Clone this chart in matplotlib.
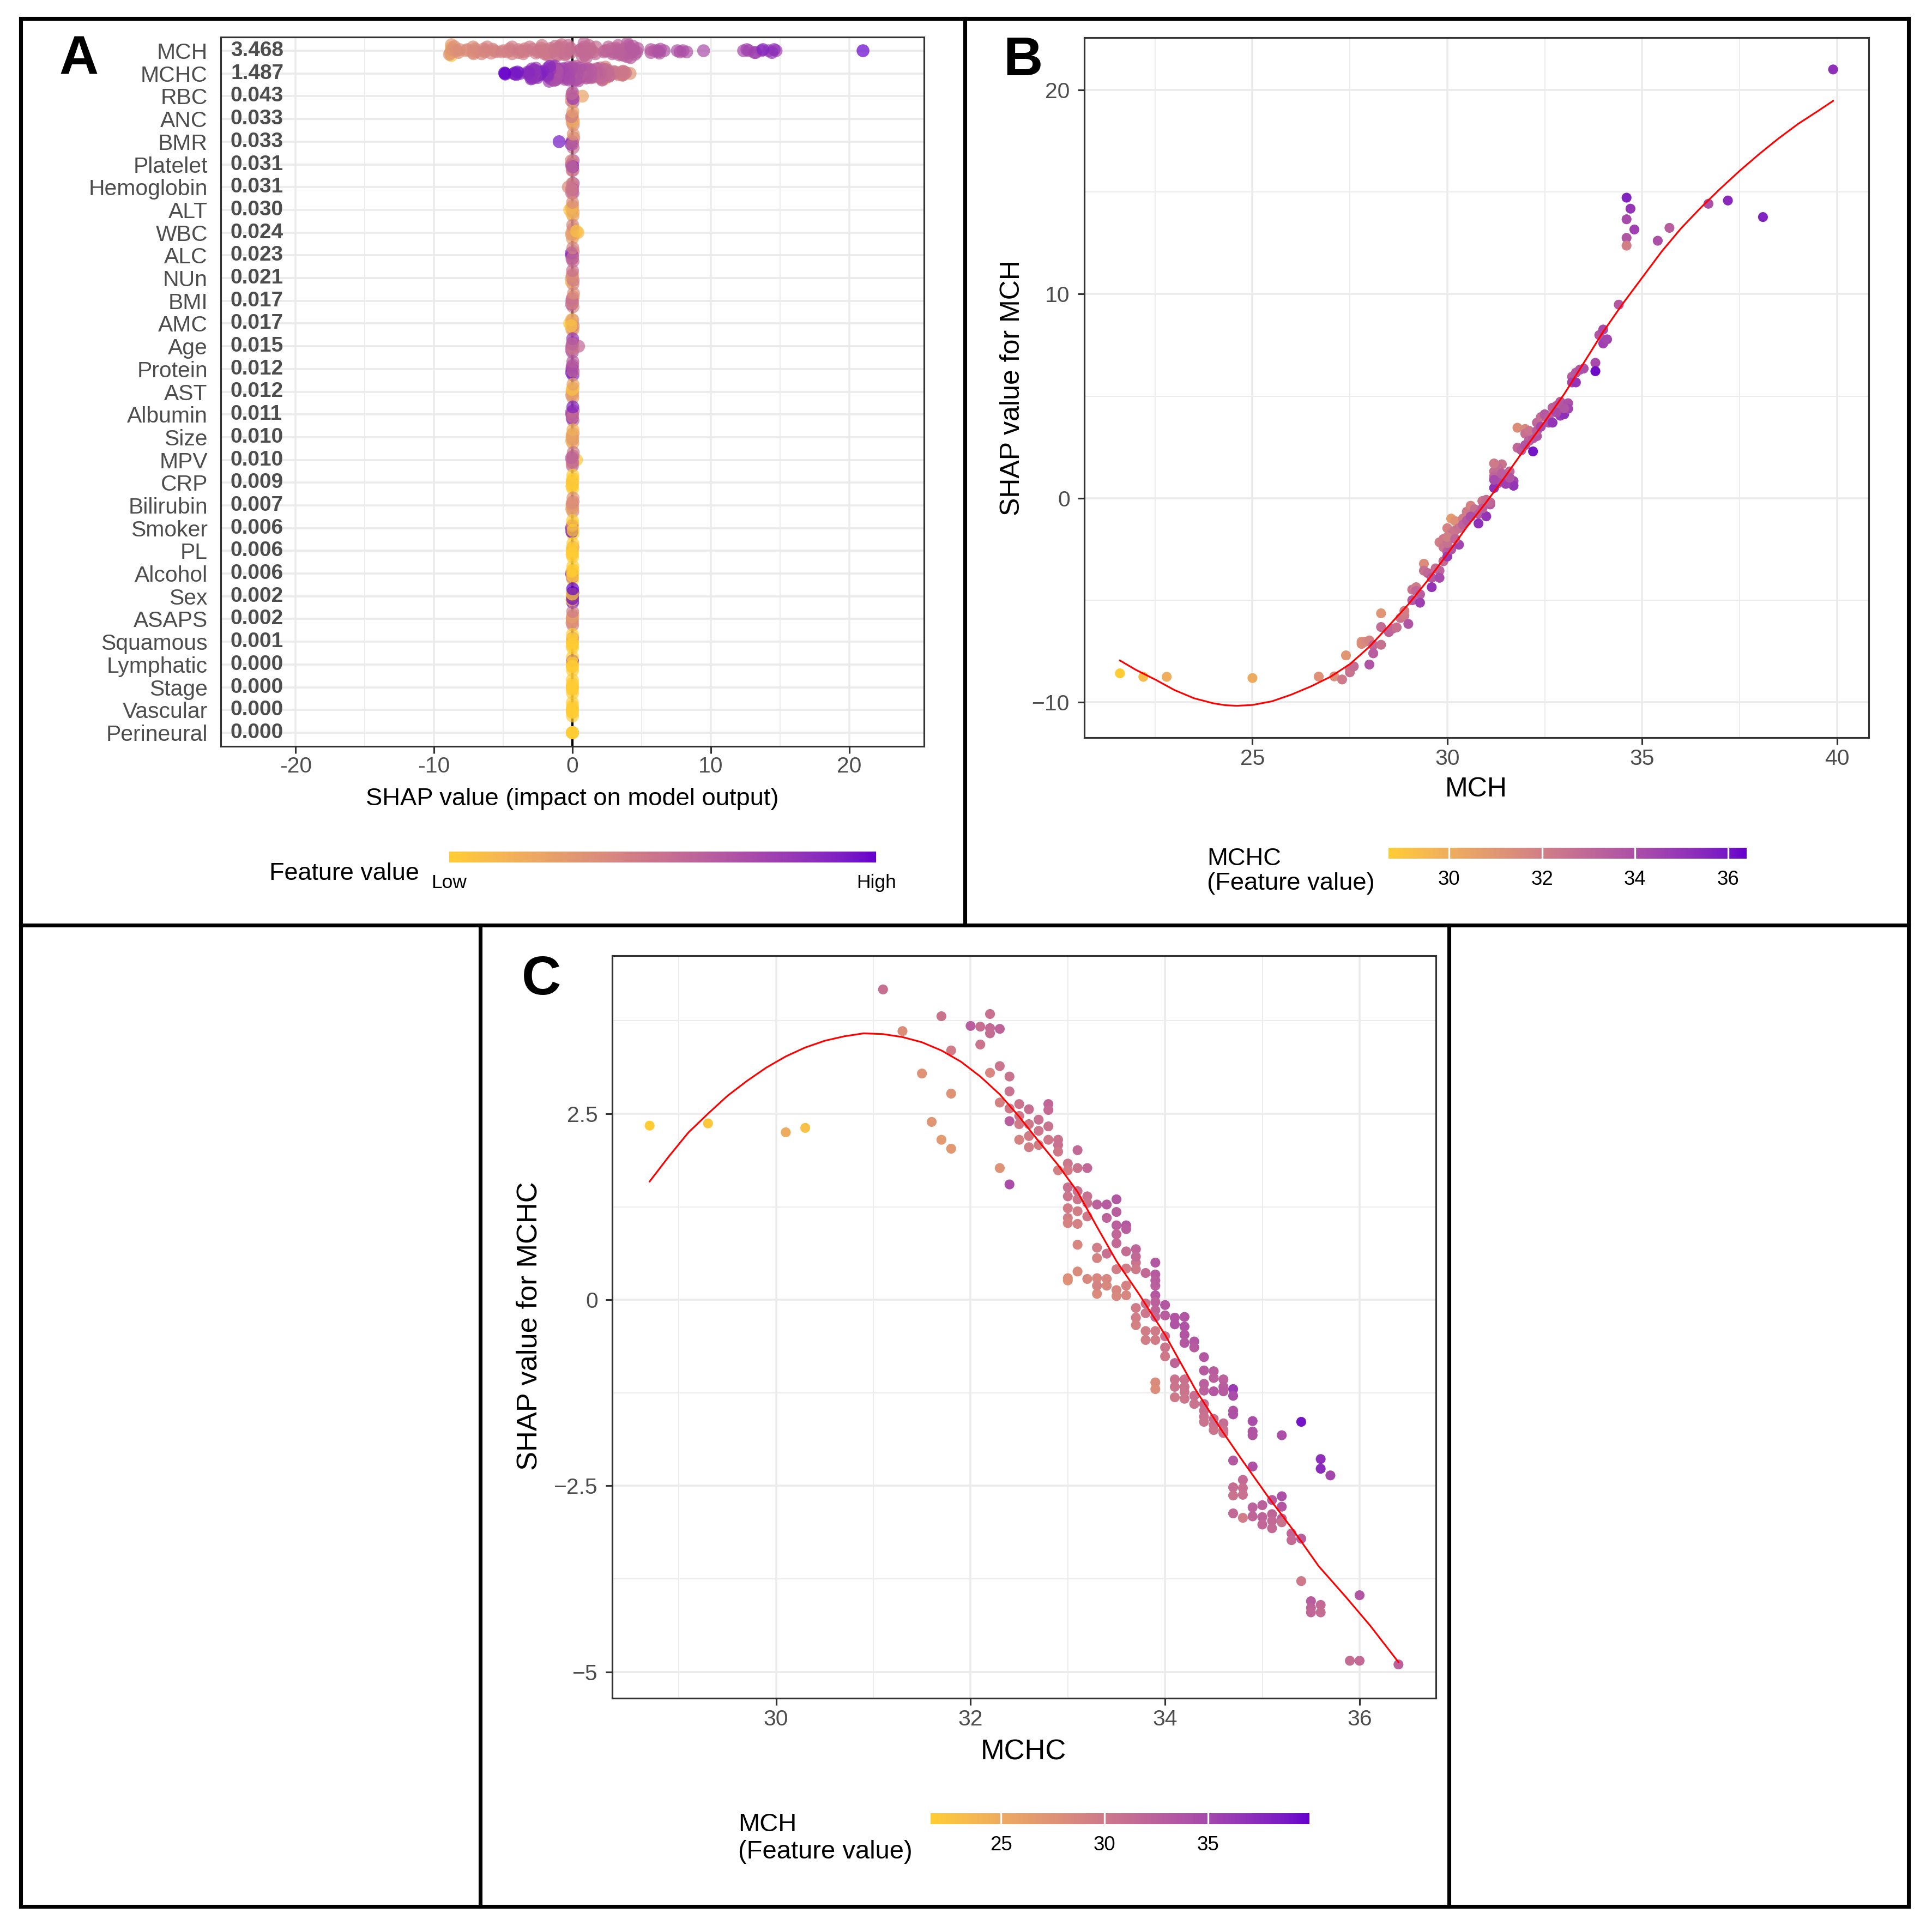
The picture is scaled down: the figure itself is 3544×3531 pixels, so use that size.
import numpy as np
import matplotlib
matplotlib.use("Agg")
import matplotlib.pyplot as plt
from matplotlib.colors import ListedColormap, Normalize
from matplotlib.cm import ScalarMappable
from matplotlib.lines import Line2D
from matplotlib.ticker import FuncFormatter

plt.rcParams['font.family'] = ['Liberation Sans', 'DejaVu Sans']

# ---------------- data ----------------
# panel A: features and mean |SHAP|
feature_names = ["MCH", "MCHC", "RBC", "ANC", "BMR", "Platelet", "Hemoglobin", "ALT",
                 "WBC", "ALC", "NUn", "BMI", "AMC", "Age", "Protein", "AST", "Albumin",
                 "Size", "MPV", "CRP", "Bilirubin", "Smoker", "PL", "Alcohol", "Sex",
                 "ASAPS", "Squamous", "Lymphatic", "Stage", "Vascular", "Perineural"]
mean_abs_shap = [3.468, 1.487, 0.043, 0.033, 0.033, 0.031, 0.031, 0.030, 0.024, 0.023,
                 0.021, 0.017, 0.017, 0.015, 0.012, 0.012, 0.011, 0.010, 0.010, 0.009,
                 0.007, 0.006, 0.006, 0.006, 0.002, 0.002, 0.001, 0.000, 0.000, 0.000, 0.000]

# SHAP values of the minor features (RBC ... Perineural) and their scaled feature value (0 low, 1 high)
minor_shap = [
    [0.00, 0.04, -0.05, 0.02, 0.72, -0.08, 0.05, -0.02],
    [0.02, -0.04, 0.06, 0.00, -0.02, 0.08, -0.06, 0.03],
    [-0.96, 0.00, 0.05, -0.05, 0.10, -0.10, 0.02, 0.06],
    [0.00, -0.06, 0.04, -0.02, 0.06, -0.08, 0.02, -0.04],
    [-0.30, 0.00, 0.04, -0.05, 0.06, -0.02, 0.02, -0.08],
    [-0.20, 0.00, 0.04, -0.04, 0.02, 0.06, -0.06, 0.01],
    [0.40, 0.00, -0.04, 0.05, 0.10, -0.06, 0.02, 0.30],
    [0.00, -0.06, 0.04, -0.03, 0.06, -0.08, 0.02, 0.03],
    [0.00, -0.05, 0.04, 0.02, -0.08, 0.06, -0.03, 0.01],
    [0.00, 0.04, -0.04, 0.06, -0.06, 0.02, -0.02, 0.08],
    [-0.20, 0.00, 0.04, -0.04, 0.02, 0.06, -0.06, -0.10],
    [0.45, 0.00, -0.04, 0.04, -0.08, 0.06, 0.02, -0.02],
    [0.00, -0.04, 0.04, 0.02, -0.06, 0.06, -0.02, 0.03],
    [0.00, 0.03, -0.03, 0.05, -0.05, 0.02, -0.02, 0.04],
    [0.00, -0.05, 0.04, -0.02, 0.06, -0.06, 0.02, 0.03],
    [0.00, 0.03, -0.03, 0.05, -0.05, 0.02, -0.02, 0.04],
    [0.30, 0.00, -0.04, 0.04, -0.02, 0.02, 0.06, -0.06],
    [0.00, 0.02, -0.02, 0.04, -0.04, 0.01, -0.01, 0.03],
    [0.00, -0.03, 0.03, -0.05, 0.05, 0.02, -0.02, 0.04],
    [0.00, -0.06, 0.03, -0.04, 0.02, -0.02, 0.04, 0.01],
    [0.00, 0.02, -0.02, 0.04, -0.03, 0.01, -0.01, 0.03],
    [0.00, -0.06, 0.02, -0.02, 0.04, -0.04, 0.01, 0.03],
    [0.00, 0.02, -0.02, 0.03, -0.03, 0.01, -0.01, 0.02],
    [0.00, 0.02, -0.02, 0.03, -0.03, 0.01, -0.01, 0.02],
    [0.00, 0.01, -0.01, 0.02, -0.02, 0.01, -0.01, 0.00],
    [0.00, 0.01, -0.01, 0.01, -0.01, 0.00, 0.00, 0.00],
    [0.00, 0.01, -0.01, 0.01, -0.01, 0.00, 0.00, 0.00],
    [0.00, 0.01, -0.01, 0.01, -0.01, 0.00, 0.00, 0.00],
    [0.00, 0.00, 0.00, 0.00, 0.00, 0.00, 0.00, 0.00],
]
minor_color = [
    [0.88, 0.62, 0.45, 0.70, 0.22, 0.35, 0.78, 0.55],
    [0.30, 0.22, 0.35, 0.40, 0.28, 0.18, 0.45, 0.25],
    [0.95, 0.85, 0.50, 0.65, 0.40, 0.88, 0.55, 0.30],
    [0.60, 0.80, 0.50, 0.45, 0.65, 0.38, 0.90, 0.55],
    [0.35, 0.55, 0.62, 0.48, 0.70, 0.40, 0.58, 0.45],
    [0.05, 0.15, 0.25, 0.08, 0.30, 0.20, 0.12, 0.35],
    [0.10, 0.25, 0.20, 0.32, 0.15, 0.28, 0.38, 0.05],
    [0.70, 0.92, 0.50, 0.62, 0.45, 0.85, 0.55, 0.40],
    [0.20, 0.30, 0.40, 0.25, 0.15, 0.45, 0.35, 0.50],
    [0.45, 0.38, 0.55, 0.30, 0.60, 0.42, 0.50, 0.35],
    [0.02, 0.20, 0.30, 0.25, 0.40, 0.35, 0.15, 0.05],
    [0.55, 0.65, 0.72, 0.50, 0.60, 0.45, 0.80, 0.58],
    [0.75, 0.68, 0.85, 0.60, 0.92, 0.55, 0.70, 0.62],
    [0.20, 0.28, 0.15, 0.10, 0.30, 0.25, 0.05, 0.22],
    [0.65, 0.75, 0.55, 0.85, 0.60, 0.70, 0.50, 0.90],
    [0.20, 0.25, 0.18, 0.30, 0.12, 0.28, 0.22, 0.15],
    [0.02, 0.55, 0.48, 0.62, 0.40, 0.52, 0.45, 0.58],
    [0.00, 0.00, 0.02, 0.00, 0.01, 0.00, 0.03, 0.00],
    [0.30, 0.25, 0.38, 0.20, 0.42, 0.28, 0.35, 0.32],
    [0.00, 1.00, 0.00, 1.00, 0.00, 0.50, 0.00, 0.00],
    [0.00, 0.00, 0.00, 0.35, 0.00, 0.00, 0.00, 0.00],
    [0.00, 1.00, 0.00, 0.50, 0.00, 0.00, 0.00, 0.00],
    [1.00, 1.00, 0.00, 1.00, 0.00, 1.00, 0.00, 1.00],
    [0.30, 0.40, 0.35, 0.20, 0.40, 0.30, 0.25, 0.45],
    [0.00, 0.00, 0.00, 0.50, 0.00, 0.00, 0.00, 0.00],
    [0.00, 0.00, 0.00, 1.00, 0.00, 0.00, 0.00, 0.00],
    [0.00, 0.00, 0.00, 0.00, 0.00, 0.00, 0.00, 0.00],
    [0.00, 0.00, 0.00, 0.00, 0.00, 0.00, 0.00, 0.00],
    [0.00, 0.00, 0.00, 0.00, 0.00, 0.00, 0.00, 0.00],
]

# panel B: MCH value, SHAP value for MCH, MCHC (colour)
mch_value = [
    21.6, 22.2, 22.8, 25.0, 26.7, 27.1, 27.3, 27.4, 27.5, 27.5, 27.6,
    27.8, 27.8, 27.9, 28.0, 28.0, 28.1, 28.1, 28.3, 28.3, 28.3,
    28.5, 28.6, 28.7, 28.8, 28.9, 28.9, 29.0, 29.1, 29.1, 29.2,
    29.2, 29.3, 29.3, 29.4, 29.4, 29.5, 29.6, 29.6, 29.7, 29.8,
    29.8, 29.9, 29.8, 29.9, 30.0, 30.0, 30.0, 30.1, 30.1, 30.2,
    30.1, 30.1, 30.2, 30.3, 30.3, 30.4, 30.5, 30.6, 30.7, 30.8,
    30.8, 31.0, 30.9, 31.0, 31.1, 31.1, 31.2, 31.2, 31.3, 31.2,
    31.4, 31.4, 31.5, 31.6, 31.7, 31.7, 31.8, 32.0, 31.8, 31.9,
    32.0, 32.1, 32.1, 32.2, 32.2, 32.3, 32.3, 32.4, 32.5, 32.5,
    32.6, 32.6, 32.7, 32.7, 32.8, 32.9, 32.9, 33.0, 33.1, 33.1,
    33.2, 33.2, 33.3, 33.3, 33.4, 33.5, 33.8, 33.8, 33.9, 34.0,
    34.0, 34.1, 34.4, 34.6, 34.6, 34.6, 34.6, 34.7, 34.8, 35.4,
    35.7, 36.7, 37.2, 38.1, 39.9,
    29.9, 30.0, 30.0, 30.2, 30.4, 30.5, 30.6, 30.9, 31.2, 31.3,
    31.4, 31.5, 31.6, 31.2, 32.0, 32.1, 32.3, 32.4, 32.8, 33.0,
]
mch_shap = [
    -8.58, -8.75, -8.75, -8.81, -8.74, -8.73, -8.88, -7.70, -8.53, -8.36, -8.24,
    -7.03, -7.14, -7.03, -6.97, -8.15, -7.20, -7.60, -7.18, -5.64, -6.31,
    -6.56, -6.39, -6.33, -5.87, -5.75, -5.52, -6.16, -4.48, -5.00, -4.36,
    -4.54, -4.71, -5.12, -3.21, -3.55, -3.67, -3.90, -4.36, -3.44, -3.55,
    -3.90, -3.09, -2.16, -2.40, -2.63, -2.86, -1.47, -2.51, -1.00, -1.12,
    -1.70, -1.82, -1.59, -1.47, -2.28, -1.00, -0.66, -0.37, -0.54, -0.78,
    -1.24, -0.89, -0.14, -0.08, -0.31, -0.20, 1.31, 1.08, 0.73, 0.50,
    1.66, 0.84, 1.08, 1.31, 0.84, 0.61, 3.45, 3.39, 2.47, 2.35,
    3.16, 2.88, 2.81, 2.93, 2.29, 3.04, 3.70, 3.97, 4.09, 4.11,
    3.97, 3.70, 4.43, 3.70, 4.52, 4.72, 4.04, 4.11, 4.65, 4.38,
    5.95, 5.67, 6.15, 5.67, 6.29, 6.35, 6.63, 6.22, 7.99, 8.26,
    7.58, 7.78, 9.48, 14.72, 13.66, 12.75, 12.37, 14.18, 13.16, 12.61,
    13.24, 14.42, 14.58, 13.77, 21.00,
    -2.00, -2.20, -1.90, -2.00, -1.30, -1.10, -0.90, -0.50, 0.90, 1.50,
    1.20, 0.70, 1.00, 1.70, 2.60, 3.30, 3.30, 3.50, 4.20, 4.40,
]
mchc_color = [
    28.7, 29.4, 30.0, 30.1, 31.2, 31.3, 32.2, 31.0, 32.6, 32.4, 32.8,
    31.2, 31.4, 31.6, 31.8, 33.8, 33.0, 33.4, 32.6, 31.0, 32.8,
    33.2, 33.0, 32.6, 32.4, 32.2, 32.0, 33.8, 32.4, 33.6, 32.2,
    33.0, 33.4, 34.6, 31.4, 32.6, 33.0, 33.6, 35.0, 32.8, 33.2,
    34.2, 33.0, 32.0, 32.4, 33.4, 34.8, 31.8, 33.8, 30.8, 31.2,
    32.2, 32.8, 32.4, 32.6, 34.4, 32.0, 32.2, 31.8, 32.6, 33.4,
    35.2, 35.0, 32.4, 32.8, 33.6, 33.0, 32.6, 33.0, 33.8, 35.2,
    32.4, 34.0, 33.2, 33.0, 34.4, 35.0, 31.4, 31.6, 33.0, 33.4,
    32.6, 32.8, 33.2, 33.6, 36.0, 33.8, 33.0, 32.8, 33.2, 33.6,
    33.4, 34.0, 33.2, 35.0, 33.4, 33.6, 34.8, 35.2, 34.0, 34.4,
    33.4, 34.4, 33.6, 35.0, 33.8, 34.0, 34.2, 36.2, 33.8, 34.2,
    34.6, 34.4, 33.6, 35.6, 34.2, 33.8, 32.0, 35.0, 34.6, 34.0,
    33.4, 34.0, 35.4, 35.6, 35.2,
    32.2, 32.6, 32.0, 33.0, 33.2, 33.6, 34.0, 33.4, 34.2, 32.8,
    33.4, 34.6, 33.8, 32.2, 33.8, 32.4, 33.4, 34.2, 34.2, 33.8,
]
# loess curve for panel B
mch_curve_x = [21.6, 22.0, 22.5, 23.0, 23.5, 24.0, 24.3, 24.6, 25.0, 25.5, 26.0, 26.5, 27.0,
               27.5, 28.0, 28.5, 29.0, 29.5, 30.0, 30.5, 31.0, 31.5, 32.0, 32.5, 33.0, 33.5,
               34.0, 34.5, 35.0, 35.5, 36.0, 36.5, 37.0, 37.5, 38.0, 38.5, 39.0, 39.5, 39.9]
mch_curve_y = [-7.95, -8.40, -8.88, -9.40, -9.80, -10.05, -10.14, -10.17, -10.13, -9.95,
               -9.62, -9.22, -8.75, -8.13, -7.28, -6.25, -5.20, -4.02, -2.74, -1.41, -0.20,
               1.10, 2.45, 3.75, 5.10, 6.62, 8.15, 9.52, 10.80, 12.08, 13.22, 14.22, 15.15,
               16.03, 16.85, 17.62, 18.33, 18.95, 19.46]

# panel C: MCHC value, SHAP value for MCHC, MCH (colour)
mchc_value = [
    28.7, 29.3, 30.1, 30.3, 31.1, 31.3, 31.5, 31.6, 31.7, 31.7,
    31.8, 31.8, 31.8, 32.0, 32.1, 32.1, 32.2, 32.2, 32.2, 32.2,
    32.3, 32.3, 32.3, 32.3, 32.4, 32.4, 32.4, 32.4, 32.4, 32.5,
    32.5, 32.5, 32.5, 32.6, 32.6, 32.6, 32.6, 32.7, 32.7, 32.7,
    32.8, 32.8, 32.8, 32.8, 32.9, 32.9, 32.9, 32.9, 33.0, 33.0,
    33.1, 33.1, 33.2, 33.0, 33.0, 33.1, 33.1, 33.0, 33.0, 33.0,
    33.1, 33.1, 33.2, 33.2, 33.2, 33.3, 33.1, 33.3, 33.3, 33.0,
    33.0, 33.1, 33.2, 33.3, 33.3, 33.3, 33.4, 33.4, 33.5, 33.5,
    33.5, 33.6, 33.6, 33.6, 33.7, 33.7, 33.8, 33.4, 33.4, 33.5,
    33.5, 33.5, 33.5, 33.6, 33.6, 33.5, 33.6, 33.7, 33.7, 33.4,
    33.9, 33.9, 33.9, 33.9, 33.9, 33.9, 33.9, 33.9, 33.7, 33.7,
    33.7, 33.8, 33.8, 33.8, 33.8, 33.9, 33.9, 34.0, 34.0, 34.0,
    34.0, 34.0, 34.1, 34.1, 34.1, 34.2, 34.2, 34.2, 34.2, 34.3,
    34.3, 34.4, 34.4, 34.4, 34.4, 34.5, 34.5, 34.5, 34.6, 34.6,
    34.6, 34.7, 34.7, 34.7, 34.7, 34.1, 34.1, 34.1, 34.2, 34.2,
    34.2, 34.2, 34.3, 34.3, 34.4, 34.4, 34.4, 34.4, 34.5, 34.5,
    34.5, 34.6, 34.6, 34.6, 33.9, 33.9, 34.9, 34.9, 34.9, 35.2,
    35.4, 34.7, 34.9, 34.8, 34.8, 34.8, 34.7, 34.7, 35.6, 35.6,
    35.7, 35.1, 35.2, 35.0, 34.9, 34.9, 34.7, 34.8, 35.0, 35.0,
    35.1, 35.1, 35.1, 35.2, 35.2, 35.2, 35.3, 35.3, 35.4, 35.4,
    35.5, 35.5, 35.5, 35.6, 35.6, 36.0, 35.9, 36.0, 36.4,
]
mchc_shap = [
    2.34, 2.37, 2.25, 2.31, 4.17, 3.61, 3.04, 2.39, 3.81, 2.15,
    3.35, 2.77, 2.03, 3.68, 3.67, 3.43, 3.84, 3.65, 3.58, 3.05,
    3.64, 3.14, 2.65, 1.77, 3.00, 2.80, 2.57, 2.40, 1.55, 2.63,
    2.47, 2.36, 2.15, 2.56, 2.36, 2.20, 2.05, 2.42, 2.27, 2.08,
    2.63, 2.55, 2.33, 2.15, 2.15, 2.08, 1.99, 1.74, 1.83, 1.74,
    2.01, 1.77, 1.77, 1.51, 1.39, 1.46, 1.35, 1.23, 1.10, 1.03,
    1.19, 1.02, 1.39, 1.30, 1.12, 1.28, 0.74, 0.70, 0.56, 0.29,
    0.26, 0.38, 0.28, 0.29, 0.08, 0.19, 0.28, 0.19, 0.41, 0.13,
    0.05, 0.42, 0.19, 0.06, 0.50, 0.41, 0.36, 1.28, 1.10, 1.35,
    1.18, 1.00, 0.88, 1.00, 0.95, 0.76, 0.65, 0.68, 0.58, 0.62,
    0.50, 0.34, 0.26, 0.19, 0.06, -0.03, -0.14, -0.23, -0.11, -0.24,
    -0.34, -0.05, -0.18, -0.42, -0.54, -0.42, -0.54, -0.07, -0.21, -0.49,
    -0.64, -0.76, -0.24, -0.33, -0.85, -0.23, -0.36, -0.47, -0.58, -0.56,
    -0.64, -0.77, -0.95, -1.13, -1.22, -0.96, -1.05, -1.23, -1.07, -1.17,
    -1.23, -1.20, -1.29, -1.49, -1.54, -1.07, -1.17, -1.31, -1.07, -1.17,
    -1.24, -1.33, -1.29, -1.40, -1.40, -1.49, -1.57, -1.64, -1.60, -1.68,
    -1.75, -1.66, -1.75, -1.79, -1.11, -1.20, -1.63, -1.77, -1.82, -1.82,
    -1.64, -2.16, -2.24, -2.42, -2.53, -2.62, -2.52, -2.63, -2.14, -2.27,
    -2.36, -2.69, -2.64, -2.76, -2.79, -2.91, -2.87, -2.93, -2.92, -3.02,
    -2.88, -2.97, -3.07, -2.78, -2.94, -2.99, -3.14, -3.23, -3.21, -3.78,
    -4.05, -4.14, -4.20, -4.10, -4.20, -3.97, -4.85, -4.85, -4.90,
]
mch_color = [
    21.6, 22.2, 25.0, 22.8, 31.0, 28.0, 27.4, 27.1, 30.6, 26.7,
    29.6, 27.5, 26.9, 32.8, 31.0, 30.4, 30.8, 31.6, 31.2, 28.6,
    32.2, 30.4, 29.0, 27.5, 30.6, 30.6, 30.0, 32.8, 34.4, 30.4,
    30.2, 29.8, 29.0, 31.0, 30.0, 29.6, 29.4, 30.8, 30.2, 29.4,
    31.8, 31.4, 30.6, 30.0, 30.4, 30.8, 30.0, 29.2, 30.2, 29.6,
    31.6, 30.6, 31.8, 30.8, 30.4, 30.8, 30.2, 29.8, 29.4, 29.0,
    29.6, 29.2, 30.8, 30.4, 30.0, 32.4, 28.6, 29.4, 29.0, 27.8,
    27.6, 28.2, 28.4, 28.6, 28.2, 29.0, 28.6, 28.4, 29.4, 28.8,
    28.4, 29.6, 29.0, 28.6, 30.4, 30.0, 31.6, 33.0, 32.2, 33.4,
    32.8, 32.6, 31.8, 33.4, 32.8, 31.6, 31.2, 32.0, 31.6, 30.8,
    33.4, 33.0, 32.8, 32.6, 33.2, 32.4, 32.0, 31.6, 29.8, 29.6,
    29.2, 30.6, 30.2, 29.6, 29.4, 29.8, 29.6, 33.4, 32.8, 30.8,
    30.4, 30.0, 33.6, 33.8, 32.0, 33.4, 33.8, 33.6, 33.2, 33.4,
    33.0, 33.2, 33.0, 32.6, 32.4, 32.8, 32.6, 33.2, 32.4, 32.8,
    33.0, 36.0, 34.4, 33.8, 34.0, 30.6, 30.4, 30.0, 30.8, 30.6,
    30.4, 30.2, 31.0, 30.6, 31.2, 31.0, 30.8, 30.6, 31.0, 30.8,
    30.4, 31.2, 30.8, 30.4, 28.2, 28.0, 34.4, 33.8, 33.6, 34.2,
    39.0, 33.2, 34.0, 31.4, 31.0, 30.8, 31.2, 30.6, 37.0, 37.4,
    35.0, 33.0, 34.2, 32.6, 32.4, 32.0, 31.6, 29.6, 32.2, 31.8,
    32.0, 31.6, 31.4, 33.6, 32.6, 30.6, 31.8, 31.4, 32.8, 30.0,
    32.8, 32.2, 31.8, 31.6, 31.2, 33.6, 31.2, 31.4, 32.6,
]
# loess curve for panel C
mchc_curve_x = [28.7, 28.9, 29.1, 29.3, 29.5, 29.7, 29.9, 30.1, 30.3, 30.5, 30.7, 30.9, 31.1,
                31.3, 31.5, 31.7, 31.9, 32.1, 32.3, 32.5, 32.7, 32.9, 33.1, 33.3, 33.5, 33.73,
                34.0, 34.31, 34.58, 34.79, 35.05, 35.32, 35.58, 35.85, 36.11, 36.4]
mchc_curve_y = [1.59, 1.93, 2.25, 2.50, 2.74, 2.94, 3.12, 3.27, 3.39, 3.48, 3.54, 3.58, 3.57,
                3.53, 3.46, 3.35, 3.20, 3.00, 2.76, 2.46, 2.13, 1.81, 1.45, 0.98, 0.52, 0.08,
                -0.47, -1.20, -1.75, -2.15, -2.63, -3.10, -3.58, -3.98, -4.38, -4.87]

# ---------------- helpers ----------------
W, H, DPI = 3544, 3531, 300
GRID = '#EBEBEB'
DARK = '#333333'
TXT = '#4D4D4D'

M_RGB2XYZ = np.array([[0.4124564, 0.3575761, 0.1804375],
                      [0.2126729, 0.7151522, 0.0721750],
                      [0.0193339, 0.1191920, 0.9503041]])
WHITE = np.array([0.95047, 1.0, 1.08883])


def to_lab(hexcol):
    rgb = np.array([int(hexcol[i:i + 2], 16) for i in (1, 3, 5)]) / 255.0
    lin = np.where(rgb <= 0.04045, rgb / 12.92, ((rgb + 0.055) / 1.055) ** 2.4)
    t = M_RGB2XYZ @ lin / WHITE
    d = 6 / 29
    f = np.where(t > d ** 3, np.cbrt(t), t / (3 * d * d) + 4 / 29)
    return np.array([116 * f[1] - 16, 500 * (f[0] - f[1]), 200 * (f[1] - f[2])])


def from_lab(lab):
    L, a, b = lab[:, 0], lab[:, 1], lab[:, 2]
    fy = (L + 16) / 116
    f = np.stack([fy + a / 500, fy, fy - b / 200], axis=1)
    d = 6 / 29
    xyz = np.where(f > d, f ** 3, 3 * d * d * (f - 4 / 29)) * WHITE
    lin = xyz @ np.linalg.inv(M_RGB2XYZ).T
    lin = np.clip(lin, 0, 1)
    rgb = np.where(lin <= 0.0031308, 12.92 * lin, 1.055 * lin ** (1 / 2.4) - 0.055)
    return np.clip(rgb, 0, 1)


# ggplot-like gradient (Lab interpolation) from low to high
lab0, lab1 = to_lab('#FFCC33'), to_lab('#6600CC')
tt = np.linspace(0, 1, 256)[:, None]
cmap = ListedColormap(from_lab(lab0 + (lab1 - lab0) * tt))


def sina(vals, maxwidth=0.7, bw=0.6):
    v = np.asarray(vals, float)
    off = np.zeros(len(v))
    if np.ptp(v) == 0:
        return off
    start = np.floor(v.min() / bw) * bw
    idx = ((v - start) // bw).astype(int)
    counts = np.bincount(idx)
    half = maxwidth / 2 * counts[idx] / counts.max()
    seen = np.zeros(len(counts), int)
    for j in range(len(v)):
        k = seen[idx[j]]
        seen[idx[j]] += 1
        if counts[idx[j]] > 1:
            off[j] = (((k * 0.618034) + 0.5) % 1.0 * 2 - 1) * half[j]
    return off


def rect(l, t, r, b):
    return [l / W, 1 - b / H, (r - l) / W, (b - t) / H]


def ftext(x, y, s, **kw):
    fig.text(x / W, 1 - y / H, s, **kw)


def style(ax):
    ax.set_facecolor('white')
    ax.grid(which='major', color=GRID, lw=0.85)
    ax.grid(which='minor', color=GRID, lw=0.45)
    ax.set_axisbelow(True)
    for s in ax.spines.values():
        s.set_color(DARK)
        s.set_linewidth(0.75)
    ax.tick_params(which='major', length=3, width=0.75, color=DARK, labelcolor=TXT, labelsize=9.8)
    ax.tick_params(axis='x', pad=1.8)
    ax.tick_params(axis='y', pad=3.3)
    ax.tick_params(which='minor', length=0)


minus_fmt = FuncFormatter(lambda v, p: ('%g' % v).replace('-', '\u2212'))


def add_bar(l, t, r, b, norm, ticks, labels=None, white_ticks=True, size=8.8):
    cax = fig.add_axes(rect(l, t, r, b))
    cb = fig.colorbar(ScalarMappable(norm=norm, cmap=cmap), cax=cax, orientation='horizontal')
    cb.outline.set_visible(False)
    cb.set_ticks(ticks)
    if labels is not None:
        cb.set_ticklabels(labels)
    cax.tick_params(length=0, pad=5, labelsize=size, labelcolor='black')
    if white_ticks:
        for v in ticks:
            cax.axvline(v, color='white', lw=0.8)
    return cax


fig = plt.figure(figsize=(W / DPI, H / DPI), dpi=DPI, facecolor='white')

# ---------------- panel A: summary plot ----------------
ax_a = fig.add_axes(rect(405, 68, 1695, 1369))
style(ax_a)
n = len(feature_names)
norm_mch = Normalize(min(mch_value), max(mch_value))
norm_mchc = Normalize(min(mchc_value), max(mchc_value))

xs, ys, cs = [], [], []
for i, name in enumerate(feature_names):
    if i == 0:
        vals, col = mch_shap, norm_mch(np.array(mch_value))
    elif i == 1:
        vals, col = mchc_shap, norm_mchc(np.array(mchc_value))
    else:
        vals, col = minor_shap[i - 2], minor_color[i - 2]
    xs.extend(vals)
    ys.extend(n - i + sina(vals))
    cs.extend(col)
ax_a.axvline(0, color='black', lw=1.0, zorder=1.5)
ax_a.scatter(xs, ys, c=cs, cmap=cmap, vmin=0, vmax=1, s=32, alpha=0.7, linewidths=0, zorder=2)

xb = 1.1 * np.max(np.abs(xs))
ax_a.set_xlim(-1.1 * xb, 1.1 * xb)
ax_a.set_ylim(0.4, n + 0.6)
ax_a.set_xticks([-20, -10, 0, 10, 20])
ax_a.set_xticks([-15, -5, 5, 15], minor=True)
ax_a.xaxis.set_major_formatter(FuncFormatter(lambda v, p: '%d' % v))
ax_a.set_yticks([n - i for i in range(n)])
ax_a.set_yticklabels(feature_names)
ax_a.tick_params(axis='y', length=0, pad=5.8)
ax_a.tick_params(axis='x', pad=1.4)
ax_a.grid(axis='y', which='major', color=GRID, lw=0.9)
for i, m in enumerate(mean_abs_shap):
    ax_a.text(18 / 1290, n - i, '%.3f' % m, transform=ax_a.get_yaxis_transform(),
              ha='left', va='center', fontsize=9.3, fontweight='bold', color=TXT)
ftext(1050, 1465, 'SHAP value (impact on model output)', ha='center', va='center', fontsize=10.9)
ftext(494, 1602, 'Feature value', ha='left', va='center', fontsize=10.8)
add_bar(824, 1562, 1607, 1582, Normalize(0, 1), [0, 1], ['Low', 'High'], white_ticks=False, size=8.5)

# ---------------- panel B: dependence plot MCH ----------------
ax_b = fig.add_axes(rect(1989, 69, 3428, 1353))
style(ax_b)
ax_b.scatter(mch_value, mch_shap, c=mchc_color, cmap=cmap, norm=norm_mchc, s=19, linewidths=0, zorder=2)
ax_b.plot(mch_curve_x, mch_curve_y, color='red', lw=0.75, zorder=3)
ax_b.set_xticks([25, 30, 35, 40])
ax_b.set_xticks([22.5, 27.5, 32.5, 37.5], minor=True)
ax_b.set_yticks([-10, 0, 10, 20])
ax_b.set_yticks([-5, 5, 15], minor=True)
ax_b.xaxis.set_major_formatter(minus_fmt)
ax_b.yaxis.set_major_formatter(minus_fmt)
ftext(2708, 1448, 'MCH', ha='center', va='center', fontsize=12)
ftext(1857, 711, 'SHAP value for MCH', ha='center', va='center', rotation=90, fontsize=12)
ftext(2214, 1598, 'MCHC\n(Feature value)', ha='left', va='center', fontsize=10.9, linespacing=1.15)
add_bar(2547, 1555, 3204, 1575, norm_mchc, [30, 32, 34, 36])

# ---------------- panel C: dependence plot MCHC ----------------
ax_c = fig.add_axes(rect(1123, 1753, 2634, 3115))
style(ax_c)
ax_c.scatter(mchc_value, mchc_shap, c=mch_color, cmap=cmap, norm=norm_mch, s=19, linewidths=0, zorder=2)
ax_c.plot(mchc_curve_x, mchc_curve_y, color='red', lw=0.75, zorder=3)
ax_c.set_xticks([30, 32, 34, 36])
ax_c.set_xticks([29, 31, 33, 35], minor=True)
ax_c.set_yticks([-5, -2.5, 0, 2.5])
ax_c.set_yticks([-3.75, -1.25, 1.25, 3.75], minor=True)
ax_c.xaxis.set_major_formatter(minus_fmt)
ax_c.yaxis.set_major_formatter(minus_fmt)
ftext(1877, 3214, 'MCHC', ha='center', va='center', fontsize=12.6)
ftext(971, 2432, 'SHAP value for MCHC', ha='center', va='center', rotation=90, fontsize=12.6)
ftext(1354, 3372, 'MCH\n(Feature value)', ha='left', va='center', fontsize=11.3, linespacing=1.15)
add_bar(1707, 3326, 2402, 3346, norm_mch, [25, 30, 35])

# ---------------- panel letters and frame ----------------
ftext(145, 111, 'A', ha='center', va='center', fontsize=24, fontweight='bold')
ftext(1876, 112, 'B', ha='center', va='center', fontsize=24, fontweight='bold')
ftext(993, 1798, 'C', ha='center', va='center', fontsize=24, fontweight='bold')

L, R, T, B = 38, 3501, 34, 3497
frame = [((L, R), (T, T)), ((L, R), (B, B)), ((L, L), (T, B)), ((R, R), (T, B)),
         ((1770, 1770), (T, 1697)), ((L, R), (1697, 1697)),
         ((881, 881), (1697, B)), ((2658, 2658), (1697, B))]
for (x0, x1), (y0, y1) in frame:
    fig.add_artist(Line2D([x0 / W, x1 / W], [1 - y0 / H, 1 - y1 / H], color='black',
                          lw=1.7, solid_capstyle='projecting'))

fig.savefig('out.png', dpi=DPI, facecolor='white')
